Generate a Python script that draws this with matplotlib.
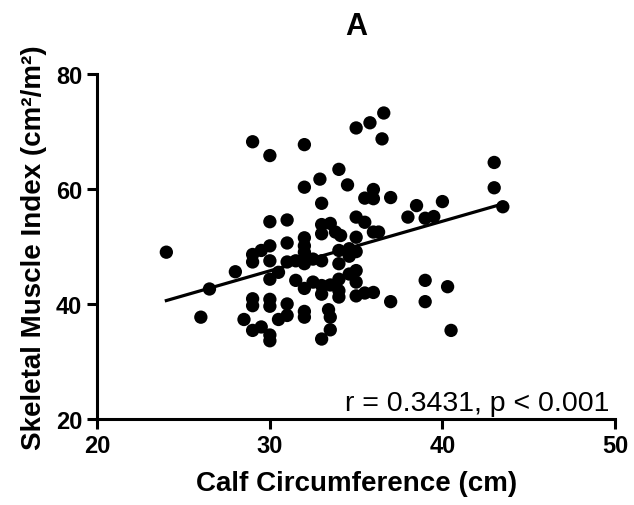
import matplotlib
matplotlib.use("Agg")
import matplotlib.pyplot as plt
import numpy as np

plt.rcParams['font.family'] = ['Liberation Sans', 'DejaVu Sans']

# Data
calf_cm = [
    29.0, 30.0, 32.0, 32.9, 32.0, 33.0, 30.0, 31.0, 33.0, 33.0,
    32.0, 32.0, 31.0, 30.0, 29.5, 29.0, 24.0, 32.0, 36.6, 35.8,
    35.0, 36.5, 43.0, 43.0, 43.5, 34.0, 34.5, 36.0, 35.5, 36.0,
    37.0, 38.5, 40.0, 38.0, 39.0, 39.5, 35.0, 35.5, 33.5, 33.8,
    34.1, 36.0, 36.3, 35.0, 34.0, 34.6, 35.0, 34.6, 29.0, 30.0,
    31.0, 31.5, 32.0, 32.5, 28.0, 30.5, 30.0, 26.5, 31.5, 32.0,
    32.5, 29.0, 29.0, 30.0, 30.0, 31.0, 32.0, 32.0, 31.0, 30.5,
    26.0, 28.5, 29.0, 29.5, 30.0, 30.0, 33.0, 33.0, 34.0, 34.6,
    35.0, 34.0, 35.0, 33.0, 33.5, 33.0, 34.0, 34.0, 35.0, 35.5,
    36.0, 37.0, 39.0, 39.0, 40.3, 40.5, 33.4, 33.5, 33.5,
]
smi = [
    68.2, 65.8, 67.7, 61.7, 60.3, 57.5, 54.3, 54.6, 53.8, 52.2,
    51.5, 50.1, 50.6, 50.1, 49.3, 48.6, 49.0, 49.0, 73.2, 71.5,
    70.6, 68.7, 64.6, 60.2, 56.9, 63.4, 60.7, 59.9, 58.4, 58.3,
    58.5, 57.1, 57.8, 55.1, 54.9, 55.2, 55.1, 54.2, 54.0, 52.5,
    51.9, 52.5, 52.5, 51.6, 49.3, 49.6, 49.1, 48.3, 47.3, 47.5,
    47.3, 47.5, 47.0, 47.8, 45.6, 45.5, 44.3, 42.6, 44.1, 42.7,
    43.8, 40.9, 39.7, 40.8, 39.6, 40.0, 38.7, 37.7, 38.0, 37.3,
    37.7, 37.3, 35.4, 36.0, 34.6, 33.6, 33.9, 47.5, 47.0, 45.2,
    45.8, 44.3, 43.8, 43.2, 43.3, 41.7, 42.3, 41.2, 41.4, 41.9,
    42.0, 40.4, 44.1, 40.4, 43.0, 35.4, 39.0, 37.7, 35.5,
]
fit_x_range = [24.0, 43.5]
fit_slope = 0.862
fit_intercept = 19.9
x_ticks = [20, 30, 40, 50]
y_ticks = [20, 40, 60, 80]
annotation = "r = 0.3431, p < 0.001"

fig = plt.figure(figsize=(6.34, 5.06), dpi=100)
ax = fig.add_axes([0.1535, 0.170, 0.8165, 0.682])

ax.scatter(calf_cm, smi, s=92, color='black', edgecolors='none', zorder=3, clip_on=False)
fx = np.array(fit_x_range)
ax.plot(fx, fit_slope * fx + fit_intercept, color='black', lw=2.3, zorder=2)

ax.set_xlim(20, 50)
ax.set_ylim(20, 80)
ax.set_xticks(x_ticks)
ax.set_yticks(y_ticks)
for s in ['top', 'right']:
    ax.spines[s].set_visible(False)
for s in ['left', 'bottom']:
    ax.spines[s].set_linewidth(2.2)
ax.tick_params(axis='both', direction='out', length=7, width=2.2, labelsize=17, pad=4)
for lab in ax.get_xticklabels() + ax.get_yticklabels():
    lab.set_fontweight('bold')

ax.set_xlabel("Calf Circumference (cm)", fontsize=20, fontweight='bold', labelpad=9)
ax.set_ylabel("Skeletal Muscle Index (cm²/m²)", fontsize=20, fontweight='bold', labelpad=6)
ax.set_title("A", fontsize=22, fontweight='bold', pad=29)
ax.text(0.99, 0.025, annotation, transform=ax.transAxes, ha='right', va='baseline', fontsize=20.5)

fig.savefig("out.png", dpi=100)
